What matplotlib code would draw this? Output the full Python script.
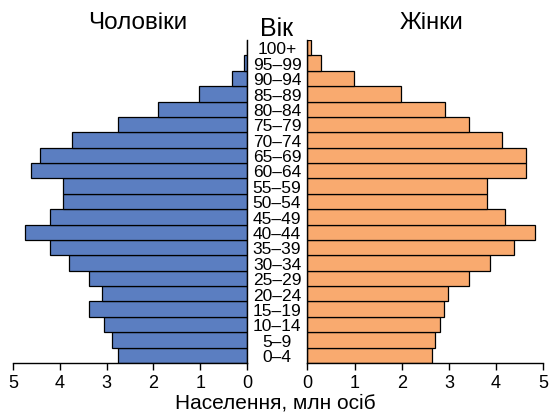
import matplotlib
matplotlib.use("Agg")
import matplotlib.pyplot as plt
import matplotlib.transforms as mtransforms

plt.rcParams['font.family'] = ['Liberation Sans', 'DejaVu Sans']

ages = ['0–4', '5–9', '10–14', '15–19', '20–24', '25–29', '30–34', '35–39',
        '40–44', '45–49', '50–54', '55–59', '60–64', '65–69', '70–74',
        '75–79', '80–84', '85–89', '90–94', '95–99', '100+']
men = [2.75, 2.88, 3.05, 3.38, 3.10, 3.38, 3.80, 4.22, 4.74, 4.22, 3.93,
       3.93, 4.62, 4.42, 3.73, 2.75, 1.90, 1.02, 0.33, 0.06, 0.01]
women = [2.65, 2.70, 2.82, 2.90, 2.99, 3.43, 3.87, 4.38, 4.82, 4.18, 3.81,
         3.81, 4.63, 4.63, 4.13, 3.43, 2.91, 1.99, 0.99, 0.28, 0.07]
ticks = [0, 1, 2, 3, 4, 5]

blue = '#5b7ec1'
orange = '#f9aa6f'

fig = plt.figure(figsize=(5.49, 4.14), dpi=100)
ax_m = fig.add_axes([13 / 549, 1 - 364 / 414, 234 / 549, 323 / 414])
ax_w = fig.add_axes([307.3 / 549, 1 - 364 / 414, 236 / 549, 323 / 414])

y = list(range(len(ages)))
ax_m.barh(y, men, height=1.0, color=blue, edgecolor='black', linewidth=0.9)
ax_w.barh(y, women, height=1.0, color=orange, edgecolor='black', linewidth=0.9)

for ax in (ax_m, ax_w):
    ax.set_ylim(-0.5, len(ages) - 0.5)
    ax.set_yticks([])
    ax.set_xticks(ticks)
    ax.set_xticklabels([str(t) for t in ticks], fontsize=13)
    ax.tick_params(axis='x', direction='out', length=5, width=1, pad=3)
    ax.spines['top'].set_visible(False)
    for s in ax.spines.values():
        s.set_linewidth(1.0)

ax_m.set_xlim(5, 0)
ax_m.spines['left'].set_visible(False)
ax_w.set_xlim(0, 5)
ax_w.spines['right'].set_visible(False)

# age labels centred between the two halves
trans = mtransforms.blended_transform_factory(fig.transFigure, ax_w.transData)
for yi, lab in zip(y, ages):
    fig.text(277 / 549, yi - 0.08, lab, transform=trans, ha='center',
             va='center', fontsize=12.5)

fig.text(138 / 549, 1 - 23 / 414, 'Чоловіки', ha='center', va='center', fontsize=17.5)
fig.text(431.7 / 549, 1 - 23 / 414, 'Жінки', ha='center', va='center', fontsize=17)
fig.text(277 / 549, 1 - 28.5 / 414, 'Вік', ha='center', va='center', fontsize=18)
fig.text(275 / 549, 1 - 403 / 414, 'Населення, млн осіб', ha='center',
         va='center', fontsize=15)

fig.savefig('out.png', dpi=100)
